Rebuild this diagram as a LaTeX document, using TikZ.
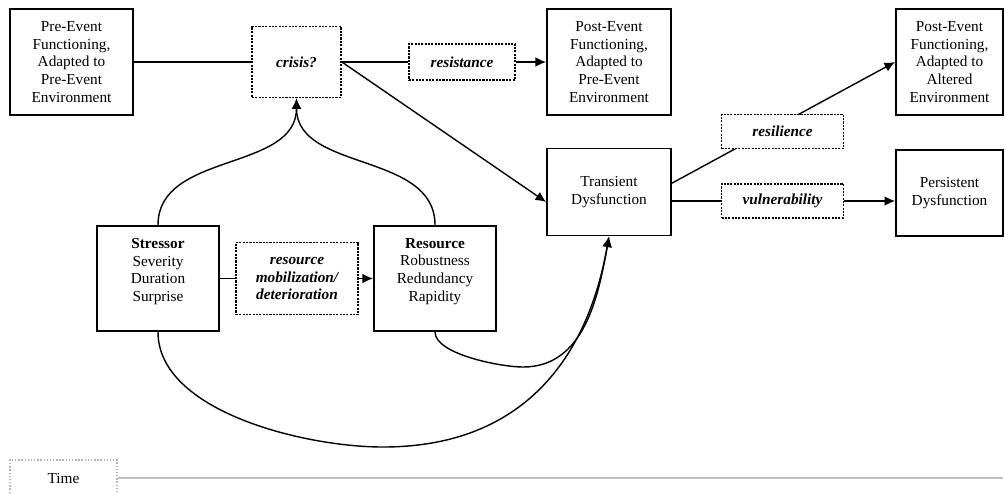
\documentclass[tikz,border=0pt]{standalone}
\usepackage{fontspec}
\setmainfont{Liberation Serif}
\usepackage{tikz}
\usetikzlibrary{arrows.meta}

\begin{document}
\begin{tikzpicture}[node distance={45mm}, thick, >={Latex[length=6pt, width=5.5pt]},
		font=\fontsize{8.7}{10}\selectfont,
		main/.style = {draw, rectangle, line width=1.1pt, align=center, inner sep=1pt},
		dot/.style = {draw, rectangle, dash pattern=on 1.2pt off 0.7pt, line width=1pt, align=center, inner sep=1pt, font=\fontsize{8.7}{10}\selectfont\bfseries\itshape}]
		\useasboundingbox (0,0) rectangle (20.1,-9.86);
		\node[main, minimum width=24.6mm, minimum height=21.2mm] (1) at (1.43,-1.24) {Pre-Event\\Functioning,\\Adapted to\\Pre-Event\\Environment};
		\node[dot, minimum width=17.8mm, minimum height=14.2mm] (2) [right of=1] {crisis?};
		\node[dot, minimum width=21.2mm, minimum height=7.2mm] (3) [right of=2, node distance=33.1mm] {resistance};
		\node[main, minimum width=24.8mm, minimum height=21.2mm] (4) [right of=3, node distance=29.4mm] {Post-Event\\Functioning,\\Adapted to\\Pre-Event\\Environment};
		\node[main, minimum width=24.8mm, minimum height=17.4mm] (5) [below of=4, node distance=26mm] {Transient\\Dysfunction};
		\node[main, minimum width=21.4mm, minimum height=21.2mm] (6) [right of=4, node distance=68.1mm] {Post-Event\\Functioning,\\Adapted to\\Altered\\Environment};
		\node[dot, minimum width=24.4mm, minimum height=6.8mm] (7) [right of=5, node distance=34.7mm, yshift=-1.8mm] {vulnerability};
		\node[main, minimum width=21.4mm, minimum height=17.2mm] (8) [below of=6, node distance=26.2mm] {Persistent\\Dysfunction};
		\node[main, minimum width=24.4mm, minimum height=21mm] (10) at (3.16,-5.57) {\textbf{Stressor}\\Severity\\Duration\\Surprise\\ \mbox{}};
		\node[dot, minimum width=24.4mm, minimum height=14.4mm] (11) [right of=10, node distance=27.8mm] {resource\\mobilization/\\deterioration};
		\node[main, minimum width=24.4mm, minimum height=21mm] (12) [right of=11, node distance=27.6mm] {\textbf{Resource}\\Robustness\\Redundancy\\Rapidity\\ \mbox{}};
		\node[draw=gray!60, densely dotted, minimum width=21.4mm, minimum height=7.2mm] (13) at (1.27,-9.56) {Time};
		\coordinate (a) at (7.66,-8.94);
		\coordinate (b) at (10.46,-7.34);
		\coordinate (c) at (20.06,-9.56);
		
		\draw (1) -- (2);
		\draw (2) -- (3);
		\draw[->] (3) -- (4);
		\draw[->] (2.east) -- (5.189);
		\draw[->] (5.8) -- (6.west);
		\draw (5.east |- 7) -- (7.west);
		\draw[->] (7.east) -- (7.east -| 8.west);
		\draw (10) -- (11);
		\draw[->] (11) -- (12);
		\draw[->] (10.north) to[out=90, in=-90] (2.south);
		\draw[->] (12.north) to[out=90, in=-90] (2.south);
		\draw[->] (10.south) to[out=-90, in=180, looseness=0.8] (a) to[out=0, in=-100, looseness=1.1] (5.south);
		\draw[->] (12.south) to[out=-90, in=180, looseness=0.6] (b) to[out=0, in=-100] (5.south);
		\draw[gray!50, line width=1pt] (13) -- (c);
		\node[dot, fill=white, minimum width=24.4mm, minimum height=6.8mm] (9) [above of=7, node distance=13.9mm] {resilience};
	\end{tikzpicture}
\end{document}
